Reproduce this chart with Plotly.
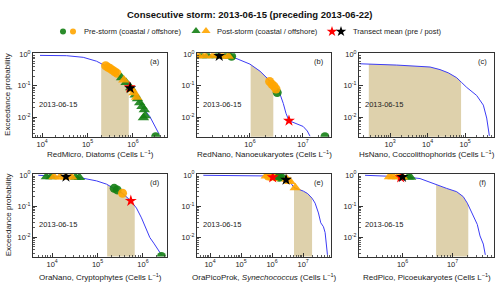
import numpy as np
import plotly.graph_objects as go

# ---------------- data ----------------
# (a) RedMicro, Diatoms
a_curve_x = [9.0e3, 3.47e4, 8.05e4, 1.58e5, 2.62e5, 4.36e5, 6.64e5, 9.31e5, 1.20e6, 1.68e6, 2.35e6, 3.03e6, 3.78e6]
a_curve_p = [0.910, 0.889, 0.789, 0.594, 0.407, 0.254, 0.141, 0.078, 0.0433, 0.0189, 0.0105, 0.00555, 0.00286]
a_shade = [2.0e5, 8.1e5]
a_pre_coast_x = [3.16e6]
a_pre_coast_p = [0.0024]
a_pre_off_x = [2.51e5, 2.82e5, 3.16e5, 3.55e5, 3.98e5, 4.47e5]
a_pre_off_p = [0.427, 0.380, 0.347, 0.309, 0.275, 0.245]
a_post_coast_x = [5.62e5, 7.08e5, 8.91e5, 1.12e6, 1.26e6, 1.41e6, 1.58e6, 1.78e6, 1.70e6, 1.86e6]
a_post_coast_p = [0.178, 0.126, 0.0851, 0.0501, 0.0380, 0.0288, 0.0219, 0.0170, 0.0095, 0.011]
a_post_off_x = [6.31e5, 9.55e5, 1.05e6, 1.20e6]
a_post_off_p = [0.151, 0.0741, 0.0589, 0.0427]
a_mean_pre = [8.51e5, 0.089]
a_mean_post = [8.71e5, 0.083]

# (b) RedNano, Nanoeukaryotes
b_curve_x = [1.06e5, 4.85e5, 1.0e6, 1.55e6, 2.22e6, 2.96e6, 3.68e6, 4.26e6, 4.78e6, 5.45e6, 7.60e6, 1.01e7, 1.21e7, 1.36e7]
b_curve_p = [0.891, 0.794, 0.48, 0.286, 0.158, 0.0879, 0.0547, 0.0270, 0.0133, 0.0077, 0.0061, 0.00505, 0.00362, 0.00248]
b_shade = [1.03e6, 2.76e6]
b_pre_coast_x = [4.5e5, 3.27e6, 2.6e7]
b_pre_coast_p = [0.85, 0.06, 0.0024]
b_pre_off_x = [2.35e6, 2.6e6, 2.85e6, 3.1e6]
b_pre_off_p = [0.135, 0.11, 0.095, 0.078]
b_post_coast_x = [1.2e5, 1.6e5, 2.4e5, 3.5e5, 4.2e5]
b_post_coast_p = [0.89, 0.89, 0.88, 0.87, 0.86]
b_post_off_x = [1.05e5, 1.4e5, 2.0e5, 3.0e5, 3.9e5]
b_post_off_p = [0.89, 0.89, 0.88, 0.87, 0.86]
b_mean_pre = [5.45e6, 0.0077]
b_mean_post = [2.63e5, 0.88]

# (c) HsNano, Coccolithophorids
c_curve_x = [1.57e2, 1.50e3, 1.16e4, 2.14e4, 3.56e4, 5.96e4, 8.09e4, 1.10e5, 2.03e5, 3.06e5, 3.76e5, 4.16e5, 4.43e5]
c_curve_p = [0.492, 0.448, 0.389, 0.322, 0.254, 0.178, 0.125, 0.0879, 0.0486, 0.0240, 0.00933, 0.00459, 0.00255]
c_shade = [2.7e2, 7.8e4]

# (d) OraNano, Cryptophytes
d_curve_x = [4.98e3, 4.10e4, 9.53e4, 1.58e5, 2.41e5, 3.56e5, 5.42e5, 7.21e5, 9.29e5, 1.20e6, 1.42e6, 1.73e6, 2.16e6, 2.56e6]
d_curve_p = [0.973, 0.820, 0.644, 0.506, 0.352, 0.257, 0.147, 0.0863, 0.0418, 0.0179, 0.00977, 0.00647, 0.00399, 0.00271]
d_shade = [1.63e5, 6.6e5]
d_pre_coast_x = [2.33e5, 2.71e5, 2.56e6]
d_pre_coast_p = [0.37, 0.33, 0.0024]
d_pre_off_x = [3.56e5]
d_pre_off_p = [0.257]
d_post_coast_x = [7.5e3, 9.5e3, 3.3e4, 4.0e4]
d_post_coast_p = [0.87, 0.87, 0.84, 0.83]
d_post_off_x = [1.1e4, 1.5e4, 2.0e4, 2.7e4]
d_post_off_p = [0.87, 0.86, 0.86, 0.85]
d_mean_pre = [5.42e5, 0.147]
d_mean_post = [2.02e4, 0.88]

# (e) OraPicoProk, Synechococcus
e_curve_x = [6.08e3, 6.73e5, 2.32e6, 3.55e6, 5.01e6, 7.59e6, 1.02e7, 1.41e7, 1.95e7, 2.44e7, 3.13e7, 3.72e7, 4.53e7, 5.13e7, 5.52e7, 6.10e7]
e_curve_p = [0.973, 0.927, 0.820, 0.661, 0.398, 0.347, 0.302, 0.251, 0.178, 0.124, 0.0601, 0.0290, 0.0217, 0.0141, 0.00767, 0.00271]
e_shade = [5.1e6, 1.95e7]
e_pre_coast_x = [1.7e6]
e_pre_coast_p = [0.84]
e_pre_off_x = [7.5e5, 9.0e5, 1.3e6]
e_pre_off_p = [0.92, 0.90, 0.87]
e_post_coast_x = [1.5e6, 1.9e6, 2.3e6]
e_post_coast_p = [0.86, 0.83, 0.80]
e_post_off_x = [6.5e5, 3.0e6, 3.8e6, 5.6e6]
e_post_off_p = [0.92, 0.72, 0.62, 0.39]
e_mean_pre = [1.05e6, 0.84]
e_mean_post = [2.82e6, 0.70]

# (f) RedPico, Picoeukaryotes
f_curve_x = [1.78e5, 1.21e6, 2.24e6, 4.83e6, 7.66e6, 1.21e7, 1.64e7, 1.98e7, 2.31e7, 2.69e7, 3.13e7, 3.55e7, 4.13e7, 4.53e7]
f_curve_p = [0.973, 0.861, 0.764, 0.471, 0.369, 0.290, 0.201, 0.124, 0.0729, 0.0472, 0.0258, 0.0110, 0.00603, 0.00271]
f_shade = [4.7e6, 2.07e7]
f_pre_coast_x = []
f_pre_coast_p = []
f_pre_off_x = []
f_pre_off_p = []
f_post_coast_x = [1.3e6, 1.45e6]
f_post_coast_p = [0.85, 0.84]
f_post_off_x = [5.5e5, 6.5e5, 8.0e5, 1.0e6]
f_post_off_p = [0.88, 0.88, 0.87, 0.86]
f_mean_pre = [9.2e5, 0.84]
f_mean_post = [1.0e6, 0.86]

x_titles = ["RedMicro, Diatoms (Cells L<sup>−1</sup>)",
            "RedNano, Nanoeukaryotes (Cells L<sup>−1</sup>)",
            "HsNano, Coccolithophorids (Cells L<sup>−1</sup>)",
            "OraNano, Cryptophytes (Cells L<sup>−1</sup>)",
            "OraPicoProk, <i>Synechococcus</i> (Cells L<sup>−1</sup>)",
            "RedPico, Picoeukaryotes (Cells L<sup>−1</sup>)"]
panel_labels = ["(a)", "(b)", "(c)", "(d)", "(e)", "(f)"]
x_tick_vals = [[1e4, 1e5, 1e6], [1e6, 1e7], [1e3, 1e4, 1e5],
               [1e4, 1e5, 1e6], [1e4, 1e5, 1e6, 1e7], [1e6, 1e7]]
y_tick_vals = [1, 0.1, 0.01]
date_label = "2013-06-15"
title_text = "Consecutive storm: 2013-06-15 (preceding 2013-06-22)"
legend_texts = ["Pre-storm (coastal / offshore)", "Post-storm (coastal / offshore)", "Transect mean (pre / post)"]

# ---------------- style / layout ----------------
FONT = "Liberation Sans, Arial, sans-serif"
TXT = "#222222"
GREEN = "rgba(20,128,20,0.9)"
ORANGE = "rgba(255,165,0,0.9)"
LINE_BLUE = "#3c3cf5"
SHADE = "rgb(222,209,172)"
AXC = "#333333"

x_ranges = [[3.8, 6.75], [5.0, 7.53], [2.17, 5.77], [3.58, 6.53], [3.58, 7.9], [5.13, 7.83]]
y_range = [-2.62, 0.03]
col_dom = [[0.066, 0.334], [0.394, 0.662], [0.718, 0.988]]
row_dom = [[0.5315, 0.8287], [0.1049, 0.3986]]

panels = [
    dict(cx=a_curve_x, cp=a_curve_p, sh=a_shade, pcx=a_pre_coast_x, pcp=a_pre_coast_p, pox=a_pre_off_x, pop=a_pre_off_p,
         qcx=a_post_coast_x, qcp=a_post_coast_p, qox=a_post_off_x, qop=a_post_off_p, mpre=a_mean_pre, mpost=a_mean_post),
    dict(cx=b_curve_x, cp=b_curve_p, sh=b_shade, pcx=b_pre_coast_x, pcp=b_pre_coast_p, pox=b_pre_off_x, pop=b_pre_off_p,
         qcx=b_post_coast_x, qcp=b_post_coast_p, qox=b_post_off_x, qop=b_post_off_p, mpre=b_mean_pre, mpost=b_mean_post),
    dict(cx=c_curve_x, cp=c_curve_p, sh=c_shade),
    dict(cx=d_curve_x, cp=d_curve_p, sh=d_shade, pcx=d_pre_coast_x, pcp=d_pre_coast_p, pox=d_pre_off_x, pop=d_pre_off_p,
         qcx=d_post_coast_x, qcp=d_post_coast_p, qox=d_post_off_x, qop=d_post_off_p, mpre=d_mean_pre, mpost=d_mean_post),
    dict(cx=e_curve_x, cp=e_curve_p, sh=e_shade, pcx=e_pre_coast_x, pcp=e_pre_coast_p, pox=e_pre_off_x, pop=e_pre_off_p,
         qcx=e_post_coast_x, qcp=e_post_coast_p, qox=e_post_off_x, qop=e_post_off_p, mpre=e_mean_pre, mpost=e_mean_post),
    dict(cx=f_curve_x, cp=f_curve_p, sh=f_shade, pcx=f_pre_coast_x, pcp=f_pre_coast_p, pox=f_pre_off_x, pop=f_pre_off_p,
         qcx=f_post_coast_x, qcp=f_post_coast_p, qox=f_post_off_x, qop=f_post_off_p, mpre=f_mean_pre, mpost=f_mean_post),
]

def sup(v):
    e = int(round(np.log10(v)))
    return "10<sup>" + (str(e) if e >= 0 else "-" + str(-e)) + "</sup>"

def minor_vals(rng):
    out = []
    for d in range(int(np.floor(rng[0])), int(np.ceil(rng[1])) + 1):
        for k in range(2, 10):
            v = k * 10.0 ** d
            if rng[0] < np.log10(v) < rng[1]:
                out.append(v)
    return out

fig = go.Figure()
layout = dict(width=500, height=286, margin=dict(l=0, r=0, t=0, b=0),
              paper_bgcolor="white", plot_bgcolor="rgba(0,0,0,0)", showlegend=False,
              font=dict(family=FONT, size=7.5, color=TXT), hovermode=False)
annotations = []

def mk(x, y, sym, color, size, xa, ya):
    return go.Scatter(x=x, y=y, mode="markers", xaxis=xa, yaxis=ya, cliponaxis=True,
                      marker=dict(symbol=sym, color=color, size=size, line=dict(width=0)))

for i, p in enumerate(panels):
    n = i + 1
    sfx = "" if n == 1 else str(n)
    xa, ya = "x" + sfx, "y" + sfx
    r, c = divmod(i, 3)
    # shaded area under the curve between the two bounds
    lx = np.log10(p["cx"]); lp = np.log10(p["cp"])
    lo, hi = np.log10(p["sh"])
    inside = lx[(lx > lo) & (lx < hi)]
    xs = np.concatenate([[lo], inside, [hi]])
    ps = np.interp(xs, lx, lp)
    fig.add_trace(go.Scatter(x=(10 ** np.concatenate([[lo], xs, [hi]])).tolist(),
                             y=(10 ** np.concatenate([[-4.0], ps, [-4.0]])).tolist(),
                             mode="lines", fill="toself", fillcolor=SHADE, line=dict(width=0),
                             xaxis=xa, yaxis=ya))
    fig.add_trace(go.Scatter(x=p["cx"], y=p["cp"], mode="lines", line=dict(color=LINE_BLUE, width=1),
                             xaxis=xa, yaxis=ya))
    if "pcx" in p:
        fig.add_trace(mk(p["pcx"], p["pcp"], "circle", GREEN, 9, xa, ya))
        fig.add_trace(mk(p["pox"], p["pop"], "circle", ORANGE, 9, xa, ya))
        fig.add_trace(mk(p["qcx"], p["qcp"], "triangle-up", GREEN, 10, xa, ya))
        fig.add_trace(mk(p["qox"], p["qop"], "triangle-up", ORANGE, 10, xa, ya))
        fig.add_trace(mk([p["mpre"][0]], [p["mpre"][1]], "star", "red", 9, xa, ya))
        fig.add_trace(mk([p["mpost"][0]], [p["mpost"][1]], "star", "black", 9, xa, ya))

    common = dict(type="log", showline=True, linecolor=AXC, linewidth=1, mirror=True,
                  ticks="inside", ticklen=4, tickwidth=1, tickcolor=AXC, showgrid=False, zeroline=False,
                  tickfont=dict(family=FONT, size=7.5, color=TXT), fixedrange=True)
    layout["xaxis" + sfx] = dict(common, domain=col_dom[c], anchor=ya, range=x_ranges[i],
                                 tickmode="array", tickvals=x_tick_vals[i],
                                 ticktext=[sup(v) for v in x_tick_vals[i]])
    layout["yaxis" + sfx] = dict(common, domain=row_dom[r], anchor=xa, range=y_range,
                                 tickmode="array", tickvals=y_tick_vals,
                                 ticktext=[sup(v) for v in y_tick_vals])
    # minor ticks through overlaying axes
    m = 6 + n
    mcommon = dict(type="log", showline=False, ticks="inside", ticklen=2, tickwidth=0.8, tickcolor=AXC,
                   showgrid=False, zeroline=False, showticklabels=False, fixedrange=True, tickmode="array")
    layout["xaxis%d" % m] = dict(mcommon, overlaying=xa, anchor="y%d" % m, range=x_ranges[i],
                                 tickvals=minor_vals(x_ranges[i]), domain=col_dom[c])
    layout["yaxis%d" % m] = dict(mcommon, overlaying=ya, anchor="x%d" % m, range=y_range,
                                 tickvals=minor_vals(y_range), domain=row_dom[r])
    fig.add_trace(go.Scatter(x=[], y=[], mode="markers", xaxis="x%d" % m, yaxis="y%d" % m))

    # texts
    annotations.append(dict(text=x_titles[i], xref="paper", yref="paper",
                            x=(col_dom[c][0] + col_dom[c][1]) / 2,
                            y=(1 - 152 / 286) if r == 0 else (1 - 276.5 / 286),
                            xanchor="center", yanchor="middle", showarrow=False,
                            font=dict(size=8, color=TXT)))
    annotations.append(dict(text=date_label, xref=xa + " domain", yref=ya + " domain", x=0.03, y=0.39,
                            xanchor="left", yanchor="middle", showarrow=False, font=dict(size=7.5, color=TXT)))
    annotations.append(dict(text=panel_labels[i], xref=xa + " domain", yref=ya + " domain", x=0.965, y=0.9,
                            xanchor="right", yanchor="middle", showarrow=False, font=dict(size=7.5, color=TXT)))
    if c == 0:
        annotations.append(dict(text="Exceedance probability", xref="paper", yref="paper",
                                x=8 / 500, y=(row_dom[r][0] + row_dom[r][1]) / 2, textangle=-90,
                                xanchor="center", yanchor="middle", showarrow=False, font=dict(size=8, color=TXT)))

# title
annotations.append(dict(text="<b>" + title_text + "</b>", xref="paper", yref="paper", x=0.5, y=1 - 9.5 / 286,
                        xanchor="center", yanchor="middle", showarrow=False, font=dict(size=9.5, color="#111")))

# legend row (helper axis in pixel units, covering only the legend band)
leg_y = 27
leg_sym_x = [[63, 73], [196, 206], [332, 341]]
leg_text_x = [82, 215, 351]
fig.add_trace(mk([leg_sym_x[0][0]], [leg_y], "circle", GREEN, 6, "x19", "y19"))
fig.add_trace(mk([leg_sym_x[0][1]], [leg_y], "circle", ORANGE, 6, "x19", "y19"))
fig.add_trace(mk([leg_sym_x[1][0]], [leg_y - 0.5], "triangle-up", GREEN, 8, "x19", "y19"))
fig.add_trace(mk([leg_sym_x[1][1]], [leg_y - 0.5], "triangle-up", ORANGE, 8, "x19", "y19"))
fig.add_trace(mk([leg_sym_x[2][0]], [leg_y], "star", "red", 8, "x19", "y19"))
fig.add_trace(mk([leg_sym_x[2][1]], [leg_y], "star", "black", 8, "x19", "y19"))
layout["xaxis19"] = dict(domain=[0, 1], anchor="y19", range=[0, 500], visible=False, fixedrange=True)
layout["yaxis19"] = dict(domain=[1 - 40 / 286, 1 - 14 / 286], anchor="x19", range=[40, 14],
                         visible=False, fixedrange=True)
for tx, t in zip(leg_text_x, legend_texts):
    annotations.append(dict(text=t, xref="paper", yref="paper", x=tx / 500, y=1 - leg_y / 286,
                            xanchor="left", yanchor="middle", showarrow=False, font=dict(size=7.5, color=TXT)))

layout["annotations"] = annotations
fig.update_layout(**layout)
fig.write_html("out.html", config={"displayModeBar": False, "staticPlot": True},
               post_script="document.body.style.margin='0px';")
